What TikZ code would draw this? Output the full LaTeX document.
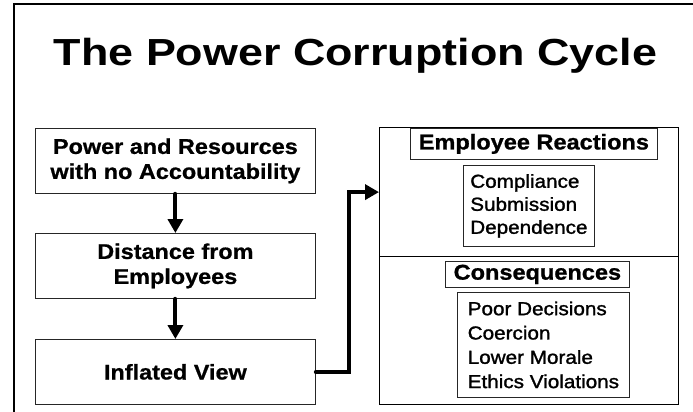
\documentclass[tikz,border=0pt]{standalone}
\usepackage{fontspec}
\setmainfont{Liberation Sans}[FakeStretch=1.1]
\newfontfamily\titlefamily{Liberation Sans}[FakeStretch=1.19]
\usepackage{tikz}
\usetikzlibrary{arrows.meta}

\newcommand\flowfont{\fontsize{21.3}{25}\selectfont\bfseries\addfontfeatures{FakeBold=0.8}}
\newcommand\headfont{\fontsize{21.4}{21}\selectfont\bfseries\addfontfeatures{FakeBold=1}}
\newcommand\entryfont{\fontsize{18.8}{24.3}\selectfont\addfontfeatures{FakeBold=1.4}}
\newcommand\entryfonttight{\fontsize{18.8}{23}\selectfont\addfontfeatures{FakeBold=1.4}}

\tikzset{
  flowbox/.style={draw=black!85,line width=0.8pt,inner sep=0pt,anchor=north west,
    minimum width=280pt,minimum height=65pt,align=center,font=\flowfont},
  panelbox/.style={draw=black,line width=1.2pt,inner sep=0pt,anchor=north west,
    minimum width=299pt},
  headbox/.style={draw=black!85,line width=0.8pt,inner sep=0pt,anchor=north west,font=\headfont},
  listbox/.style={draw=black!85,line width=0.8pt,inner sep=0pt,anchor=north west,
    align=left,font=\entryfont},
  flowarrow/.style={line width=4pt,line cap=round,-{Triangle[length=14pt,width=15pt]}},
}

\begin{document}
\begin{tikzpicture}[x=1pt,y=-1pt]
\useasboundingbox (0,0) rectangle (693,412);
% slide frame
\draw[line width=2pt] (13.5,412) -- (13.5,4.5) -- (693,4.5);

\node[font=\titlefamily\fontsize{37.7}{40}\selectfont\bfseries,anchor=base] (title) at (355.5,66) {The Power Corruption Cycle};

% left column
\node[flowbox] (power) at (35,128) {Power and Resources\\with no Accountability};
\node[flowbox] (distance) at (35,233) {Distance from\\Employees};
\node[flowbox] (inflated) at (35,339) {Inflated View};

% right panel
\node[panelbox,minimum height=129pt] (reactpanel) at (379,127) {};
\node[panelbox,minimum height=148pt] (conspanel) at (379,256) {};
\node[headbox,minimum width=247pt,minimum height=31pt] (reacthead) at (410,128) {Employee Reactions};
\node[listbox,minimum width=131pt,minimum height=81pt,font=\entryfonttight] (reactlist) at (463,165) {Compliance\\Submission\\Dependence};
\node[headbox,minimum width=184pt,minimum height=26pt] (conshead) at (445,261) {Consequences};
\node[listbox,minimum width=172pt,minimum height=105pt] (conslist) at (457,292) {Poor Decisions\\Coercion\\Lower Morale\\Ethics Violations};

% connectors
\draw[flowarrow] (power) -- (distance);
\draw[flowarrow] (distance) -- (inflated);
\draw[flowarrow] (inflated.east) -- ++(33,0) |- (reactpanel.west);
\end{tikzpicture}
\end{document}
